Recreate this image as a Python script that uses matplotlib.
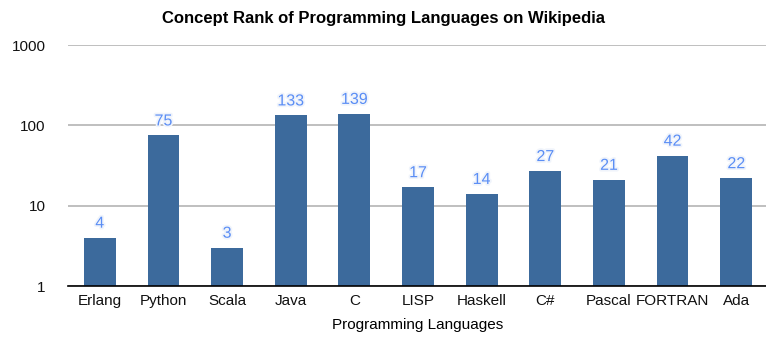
import matplotlib.pyplot as plt
import matplotlib.patheffects as pe

languages = ['Erlang', 'Python', 'Scala', 'Java', 'C', 'LISP', 'Haskell',
             'C#', 'Pascal', 'FORTRAN', 'Ada']
concept_rank = [4, 75, 3, 133, 139, 17, 14, 27, 21, 42, 22]
y_ticks = [1, 10, 100, 1000]

plt.rcParams['font.family'] = ['Liberation Sans', 'DejaVu Sans']

fig = plt.figure(figsize=(7.66, 3.43), dpi=100)
ax = fig.add_axes([68 / 766, 1 - 286 / 343, 700 / 766, 241 / 343])

x = range(len(languages))
bars = ax.bar(x, concept_rank, width=0.5, color='#3c6a9c', zorder=3)

ax.set_yscale('log')
ax.set_ylim(1, 1000)
ax.set_xlim(-0.5, len(languages) - 0.5)
ax.set_yticks(y_ticks)
ax.set_yticklabels([str(t) for t in y_ticks])
ax.minorticks_off()
ax.yaxis.grid(True, color='#b4b4b4', linewidth=1.2, zorder=0)

ax.set_xticks(list(x))
ax.set_xticklabels(languages)
ax.tick_params(axis='both', length=0, labelsize=11, colors='#111111')
ax.tick_params(axis='y', pad=16)
ax.tick_params(axis='x', pad=6)

for side in ['top', 'right', 'left']:
    ax.spines[side].set_visible(False)
ax.spines['bottom'].set_color('black')
ax.spines['bottom'].set_linewidth(1.2)
ax.spines['bottom'].set_zorder(4)

# value labels over each bar
for xi, v in zip(x, concept_rank):
    ax.annotate(str(v), (xi, v), xytext=(0, 5), textcoords='offset points',
                ha='center', va='bottom', fontsize=11.5, color='#5b8ef5',
                path_effects=[pe.withStroke(linewidth=2.5, foreground='#f0f4fb')])

ax.set_xlabel('Programming Languages', fontsize=11, labelpad=7)
fig.text(0.5, 1 - 18 / 343, 'Concept Rank of Programming Languages on Wikipedia',
         ha='center', va='center', fontsize=12, fontweight='bold')

fig.savefig('out.png', dpi=100)
